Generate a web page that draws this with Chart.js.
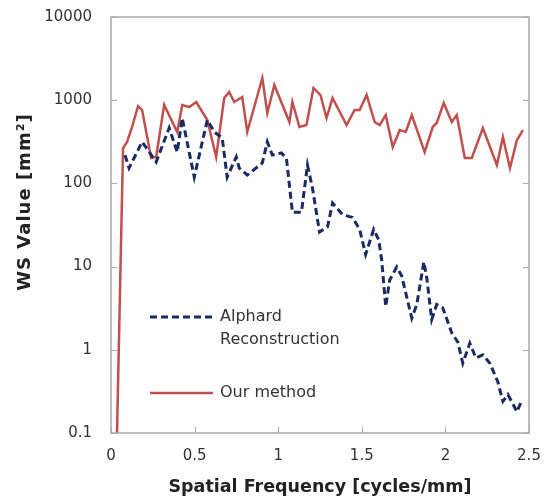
<!DOCTYPE html>
<html>
<head>
<meta charset="utf-8">
<script src="https://cdn.jsdelivr.net/npm/chart.js@4.4.1/dist/chart.umd.min.js"></script>
<style>
html,body{margin:0;padding:0;background:#fff;}
#caixa{width:552px;height:501px;}
</style>
</head>
<body>
<div id="caixa"><canvas id="graficoWS" width="552" height="501"></canvas></div>
<script>
// Alphard Reconstruction (dashed)
const freqAlphard = [0.084,0.108,0.186,0.270,0.348,0.396,0.426,0.498,0.576,0.618,0.665,0.695,0.749,0.767,0.815,0.905,0.935,0.965,1.019,1.049,1.085,1.139,1.175,1.205,1.247,1.295,1.325,1.385,1.445,1.487,1.523,1.571,1.601,1.619,1.643,1.667,1.709,1.739,1.799,1.829,1.871,1.888,1.918,1.948,1.984,2.038,2.074,2.104,2.146,2.182,2.224,2.266,2.314,2.344,2.374,2.428,2.458];
const wsAlphard = [219,153,315,181,463,238,611,119,578,415,351,119,208,153,126,176,315,219,232,202,45,45,166,88,26,30,58,42,39,28,14,28,21,12,3.3,6.9,9.9,7.7,2.4,3.5,11.4,7.5,2.3,3.5,3.2,1.6,1.24,0.69,1.2,0.80,0.87,0.69,0.41,0.24,0.29,0.18,0.25];

// Our method (solid)
const freqNosso = [0.036,0.072,0.096,0.126,0.162,0.186,0.240,0.270,0.318,0.396,0.426,0.468,0.510,0.576,0.629,0.677,0.707,0.737,0.785,0.815,0.905,0.935,0.977,1.067,1.085,1.127,1.169,1.211,1.253,1.289,1.325,1.409,1.457,1.487,1.529,1.577,1.607,1.643,1.685,1.727,1.763,1.799,1.876,1.924,1.948,1.990,2.038,2.068,2.116,2.158,2.224,2.308,2.344,2.386,2.428,2.464];
const wsNosso = [0.1,266,315,476,851,762,202,208,875,415,875,828,951,578,208,1062,1256,951,1092,415,1849,702,1523,547,951,476,503,1402,1154,611,1062,503,762,762,1154,547,503,664,274,438,415,664,238,476,532,925,547,664,202,202,463,166,361,153,332,438];

const ticksY = [0.1,1,10,100,1000,10000];
const rotulosY = ["0.1","1","10","100","1000","10000"];
const ticksX = [0,0.5,1,1.5,2,2.5];
const rotulosX = ["0","0.5","1","1.5","2","2.5"];

const tituloX = "Spatial Frequency [cycles/mm]";
const tituloY = "WS Value [mm\u00B2]";
const nomesSeries = [["Alphard","Reconstruction"],["Our method"]];

const corAzul = "#1b2a63";
const corVermelha = "#c0504d";
const corMoldura = "#a9a9a9";
const corTexto = "#333333";

function pares(xs, ys){
    return xs.map((x,i)=>({x:x, y:ys[i]}));
}

// moldura, marcas internas, legenda e titulo Y
const extras = {
    id:"extras",
    afterDatasetsDraw(chart){
        const ctx = chart.ctx;
        const a = chart.chartArea;
        const sx = chart.scales.x;
        const sy = chart.scales.y;

        ctx.save();
        ctx.strokeStyle = corMoldura;
        ctx.lineWidth = 1.5;
        ctx.strokeRect(a.left, a.top, a.right-a.left, a.bottom-a.top);

        ctx.lineWidth = 1;
        ticksY.forEach(v=>{
            const py = Math.round(sy.getPixelForValue(v))+0.5;
            ctx.beginPath();
            ctx.moveTo(a.left, py); ctx.lineTo(a.left+6, py);
            ctx.moveTo(a.right, py); ctx.lineTo(a.right-6, py);
            ctx.stroke();
        });
        ticksX.forEach(v=>{
            const px = Math.round(sx.getPixelForValue(v))+0.5;
            ctx.beginPath();
            ctx.moveTo(px, a.bottom); ctx.lineTo(px, a.bottom-6);
            ctx.stroke();
        });

        // legenda
        ctx.font = "16px 'DejaVu Sans'";
        ctx.fillStyle = corTexto;
        ctx.textBaseline = "middle";
        ctx.textAlign = "left";
        const lx0 = a.left + 39, lx1 = a.left + 102, tx = a.left + 109;
        const linhasY = [a.top + 300, a.top + 376];
        chart.data.datasets.forEach((ds,i)=>{
            const y = linhasY[i];
            ctx.strokeStyle = ds.borderColor;
            ctx.lineWidth = ds.borderWidth;
            ctx.setLineDash(ds.borderDash || []);
            ctx.beginPath();
            ctx.moveTo(lx0, y); ctx.lineTo(lx1, y);
            ctx.stroke();
            ctx.setLineDash([]);
            nomesSeries[i].forEach((t,k)=>{
                ctx.fillText(t, tx, y + k*23);
            });
        });

        // titulo Y
        ctx.font = "bold 18px 'DejaVu Sans'";
        ctx.letterSpacing = "1px";
        ctx.fillStyle = "#222";
        ctx.textAlign = "center";
        ctx.translate(25, a.top + 185);
        ctx.rotate(-Math.PI/2);
        ctx.fillText(tituloY, 0, 0);
        ctx.restore();
    }
};

const ctx = document.getElementById("graficoWS");

new Chart(ctx, {
    type:"line",
    data:{
        datasets:[
            {
                label:"Alphard Reconstruction",
                data:pares(freqAlphard, wsAlphard),
                borderColor:corAzul,
                borderWidth:3,
                borderDash:[7,4],
                pointRadius:0,
                tension:0,
                fill:false
            },
            {
                label:"Our method",
                data:pares(freqNosso, wsNosso),
                borderColor:corVermelha,
                borderWidth:2.5,
                pointRadius:0,
                tension:0,
                fill:false
            }
        ]
    },
    options:{
        responsive:false,
        animation:false,
        devicePixelRatio:1,
        layout:{ padding:{ top:17, right:23, left:0, bottom:0 } },
        plugins:{
            legend:{ display:false },
            tooltip:{ enabled:false }
        },
        scales:{
            x:{
                type:"linear",
                min:0,
                max:2.5,
                afterFit(scale){
                    scale.height = 68;
                    scale.paddingLeft = 0;
                    scale.paddingRight = 0;
                },
                afterBuildTicks(scale){ scale.ticks = ticksX.map(v=>({value:v})); },
                grid:{ display:false, drawTicks:false },
                border:{ display:false },
                ticks:{
                    padding:14,
                    color:corTexto,
                    font:{ family:"'DejaVu Sans'", size:15 },
                    callback:function(v){
                        const i = ticksX.indexOf(v);
                        return i >= 0 ? rotulosX[i] : "";
                    }
                },
                title:{
                    display:true,
                    text:tituloX,
                    color:"#222",
                    font:{ family:"'DejaVu Sans'", size:17.5, weight:"bold" },
                    padding:{ top:0, bottom:3 }
                }
            },
            y:{
                type:"logarithmic",
                min:0.1,
                max:10000,
                afterFit(scale){
                    scale.width = 111;
                    scale.paddingTop = 0;
                    scale.paddingBottom = 0;
                },
                afterBuildTicks(scale){ scale.ticks = ticksY.map(v=>({value:v})); },
                grid:{ display:false, drawTicks:false },
                border:{ display:false },
                ticks:{
                    padding:19,
                    color:corTexto,
                    font:{ family:"'DejaVu Sans'", size:15 },
                    callback:function(v){
                        const i = ticksY.indexOf(v);
                        return i >= 0 ? rotulosY[i] : "";
                    }
                }
            }
        }
    },
    plugins:[extras]
});
</script>
</body>
</html>
